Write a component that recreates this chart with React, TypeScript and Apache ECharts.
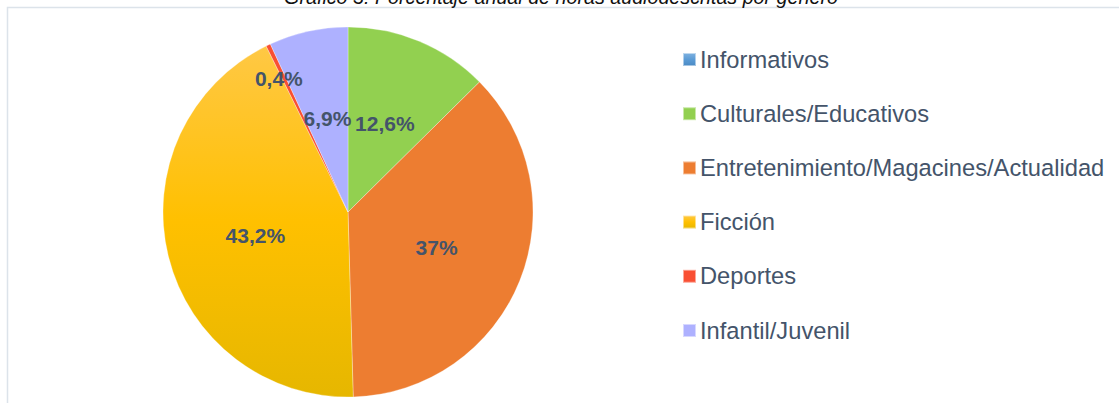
import React, { useEffect, useRef } from "react";
import * as echarts from "echarts";

const titleText = "Gráfico 3: Porcentaje anual de horas audiodescritas por género";
const categories = [
  "Informativos",
  "Culturales/Educativos",
  "Entretenimiento/Magacines/Actualidad",
  "Ficción",
  "Deportes",
  "Infantil/Juvenil",
];
const values = [0, 12.6, 37, 43.2, 0.4, 6.9];

const grad = (a: string, b: string, c: string) =>
  new echarts.graphic.LinearGradient(0, 0, 0, 1, [
    { offset: 0, color: a },
    { offset: 0.5, color: b },
    { offset: 1, color: c },
  ]);

export default function App() {
  const ref = useRef<HTMLDivElement>(null);
  useEffect(() => {
    document.body.style.margin = "0";
    const chart = echarts.init(ref.current!, undefined, { renderer: "svg" });
    const colors = [
      grad("#7fb2e0", "#5B9BD5", "#4a8ac4"),
      "#92D050",
      "#ED7D31",
      grad("#FFC845", "#FFC000", "#E6B700"),
      "#F94F33",
      "#AEB1FF",
    ];
    const fmt = (v: number) => String(v).replace(".", ",") + "%";
    const data = categories.map((name, i) => {
      const item: any = { name, value: values[i], itemStyle: { color: colors[i] } };
      if (values[i] === 0) item.label = { show: false };
      if (name === "Deportes") item.label = { offset: [-28, -47] };
      return item;
    });
    chart.setOption({
      animation: false,
      graphic: [
        {
          type: "rect",
          shape: { x: 7.5, y: 7.5, width: 1125, height: 420 },
          style: { fill: "none", stroke: "#DCE3EA", lineWidth: 1.5 },
          silent: true,
        },
        {
          type: "text",
          x: 561,
          y: -3,
          style: {
            text: titleText,
            font: "italic 19.7px 'Liberation Sans', Arial, sans-serif",
            fill: "#111",
            align: "center",
            verticalAlign: "middle",
          },
        },
      ],
      legend: {
        orient: "vertical",
        left: 682,
        top: 47.5,
        padding: 0,
        icon: "rect",
        itemWidth: 13,
        itemHeight: 13,
        itemGap: 30.2,
        textStyle: {
          fontFamily: "'Liberation Sans', Arial, sans-serif",
          fontSize: 23.7,
          lineHeight: 24,
          color: "#44546A",
          padding: [0, 0, 0, -1],
        },
        data: categories,
      },
      series: [
        {
          type: "pie",
          center: [348, 212],
          radius: 185,
          startAngle: 90,
          clockwise: true,
          avoidLabelOverlap: false,
          itemStyle: { borderColor: "rgba(255,255,255,0.5)", borderWidth: 0.6 },
          label: {
            show: true,
            position: "inner",
            formatter: (p: any) => fmt(p.value),
            fontFamily: "'Liberation Sans', Arial, sans-serif",
            fontWeight: "bold",
            fontSize: 21,
            color: "#44546A",
          },
          labelLine: { show: false },
          data,
        },
      ],
    });
    return () => chart.dispose();
  }, []);
  return (
    <div
      ref={ref}
      style={{ position: "fixed", left: 0, top: 0, width: 1119, height: 403, background: "#fff" }}
    />
  );
}
